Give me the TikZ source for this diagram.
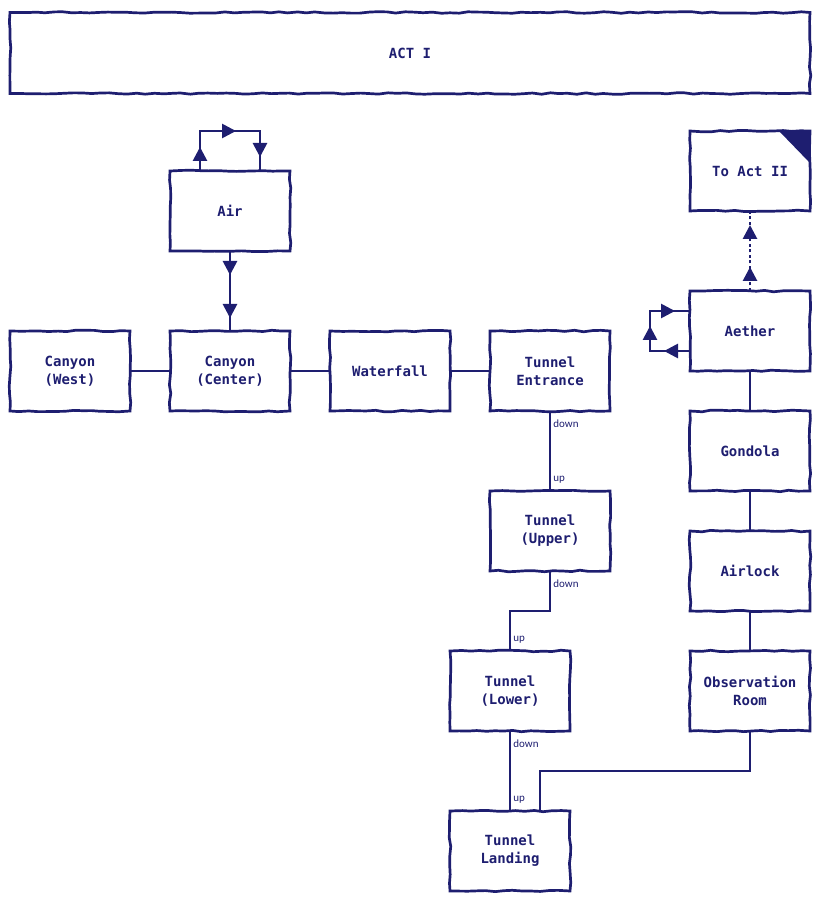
\documentclass[tikz,border=0pt]{standalone}
\usepackage{fontspec}
\usetikzlibrary{arrows.meta, positioning, decorations.pathmorphing, decorations.markings}
\newfontfamily\roomfont{DejaVu Sans Mono}
\newfontfamily\exitfont{Carlito}
\definecolor{mapnavy}{HTML}{1E1E70}

\begin{document}
\begin{tikzpicture}[
    node distance=40pt,
    room/.style={
        draw=mapnavy,
        line width=2.7pt,
        fill=white,
        outer sep=0pt,
        minimum width=120pt,
        minimum height=80pt,
        align=center,
        text=mapnavy,
        font=\roomfont\bfseries\fontsize{14}{18}\selectfont,
        decorate,
        decoration={random steps, segment length=9pt, amplitude=0.8pt}
    },
    link/.style={
        draw=mapnavy,
        line width=2.7pt
    },
    exit/.style={
        anchor=west,
        inner sep=2pt,
        text=mapnavy,
        font=\exitfont\fontsize{11}{13}\selectfont
    },
    tipat/.style={
        postaction={decorate, decoration={markings,
            mark=at position #1 with {\arrow{Triangle[length=14pt, width=14pt]}}}}
    }
]
    \pgfmathsetseed{11}
    \useasboundingbox (-70pt,371pt) rectangle (752pt,-531pt);

    \node[room, minimum width=800pt, minimum height=81pt] (act) at (340pt,318pt) {ACT I};

    % main corridor
    \node[room] (west) at (0,0) {Canyon\\(West)};
    \node[room, right=of west] (center) {Canyon\\(Center)};
    \node[room, right=of center] (waterfall) {Waterfall};
    \node[room, right=of waterfall] (entrance) {Tunnel\\Entrance};
    \node[room, above=80pt of center] (air) {Air};

    % tunnel
    \node[room, below=80pt of entrance] (upper) {Tunnel\\(Upper)};
    \node[room, below=80pt of upper, xshift=-40pt] (lower) {Tunnel\\(Lower)};
    \node[room, below=80pt of lower] (landing) {Tunnel\\Landing};

    % right column
    \node[room] (aether) at (680pt,40pt) {Aether};
    \node[room, above=80pt of aether] (toact) {To Act II};
    \node[room, below=of aether] (gondola) {Gondola};
    \node[room, below=of gondola] (airlock) {Airlock};
    \node[room, below=of airlock] (observation) {Observation\\Room};

    \fill[mapnavy] ([xshift=-31pt]toact.north east) -- ([xshift=-1pt]toact.north east)
        -- ([xshift=-1pt, yshift=-31pt]toact.north east) -- cycle;

    \draw[link] (west) -- (center);
    \draw[link] (center) -- (waterfall);
    \draw[link] (waterfall) -- (entrance);

    \draw[link, tipat=24pt, tipat=76pt, tipat=126pt]
        ([xshift=-30pt]air.north) -- ++(0,40pt) -| ([xshift=30pt]air.north);
    \draw[link, tipat=24pt, tipat=67pt] (air) -- (center);

    \draw[link] (entrance) -- node[exit, pos=0.16] {down} node[exit, pos=0.86] {up} (upper);
    \draw[link] (upper.south) -- node[exit, pos=0.33] {down} ++(0,-40pt)
        -| node[exit, pos=0.86] {up} (lower.north);
    \draw[link] (lower) -- node[exit, pos=0.16] {down} node[exit, pos=0.86] {up} (landing);

    \draw[link, dash pattern=on 3pt off 2.5pt, tipat=24pt, tipat=66pt] (aether) -- (toact);
    \draw[link, tipat=26pt, tipat=65pt, tipat=105pt]
        ([yshift=-20pt]aether.west) -- ++(-40pt,0) |- ([yshift=20pt]aether.west);
    \draw[link] (aether) -- (gondola);
    \draw[link] (gondola) -- (airlock);
    \draw[link] (airlock) -- (observation);
    \draw[link] (observation.south) -- ++(0,-40pt) -| ([xshift=30pt]landing.north);
\end{tikzpicture}
\end{document}
